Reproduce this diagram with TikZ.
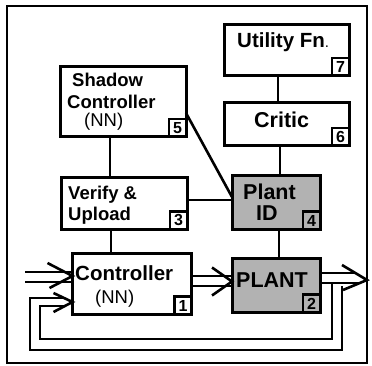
\documentclass[tikz,border=0pt]{standalone}
\usepackage{fontspec}
\setmainfont{Liberation Sans}
\usetikzlibrary{calc}
\begin{document}
\begin{tikzpicture}[x=1pt,y=-1pt,
  box/.style={draw,line width=3pt,inner sep=0pt,outer sep=0pt},
  gbox/.style={box,fill=black!30},
  num/.style={draw,line width=2.4pt,inner sep=0pt,outer sep=0pt,minimum width=17pt,minimum height=18pt,anchor=south east,font=\bfseries\fontsize{16}{16}\selectfont},
  lbl/.style={anchor=base west,inner sep=0pt,font=\bfseries\fontsize{#1}{#1}\selectfont},
  reg/.style={anchor=base west,inner sep=0pt,font=\fontsize{#1}{#1}\selectfont},
  wire/.style={line width=2.6pt},
  frame/.style={line width=2.8pt}
]
\useasboundingbox (0,0) rectangle (372,366);
\draw[frame] (7,6) rectangle (367,363);

% boxes
\node[box,minimum width=125pt,minimum height=51pt] (util) at (286.5,50.5) {};
\node[box,minimum width=125pt,minimum height=43pt] (critic) at (286.5,124.5) {};
\node[box,minimum width=126pt,minimum height=70pt] (shadow) at (123,102) {};
\node[box,minimum width=126pt,minimum height=52pt] (verify) at (124,203.5) {};
\node[gbox,minimum width=88pt,minimum height=54pt] (plantid) at (276,202.5) {};
\node[box,minimum width=119pt,minimum height=61pt] (ctrl) at (132,284) {};
\node[gbox,minimum width=88pt,minimum height=54pt] (plant) at (276,285.5) {};

% number tags
\node[num] (n7) at (util.south east) {7};
\node[num] (n6) at (critic.south east) {6};
\node[num] (n5) at (shadow.south east) {5};
\node[num] (n3) at (verify.south east) {3};
\node[num] (n4) at (plantid.south east) {4};
\node[num] (n1) at (ctrl.south east) {1};
\node[num] (n2) at (plant.south east) {2};

% texts
\node[lbl=20.5] (tutil) at (237,48) {Utility Fn{\mdseries\fontsize{15}{15}\selectfont.}};
\node[lbl=21.5] (tcritic) at (254,128) {Critic};
\node[lbl=18.5] (tsh1) at (72,87) {Shadow};
\node[lbl=18.5] (tsh2) at (67,109) {Controller};
\node[reg=18.5] (tsh3) at (84,127) {(NN)};
\node[lbl=18.5] (tver1) at (68,200) {Verify \&};
\node[lbl=18.5] (tver2) at (68,221) {Upload};
\node[lbl=21.5] (tpid1) at (243,200) {Plant};
\node[lbl=21.5] (tpid2) at (256,220) {ID};
\node[lbl=20.5] (tctrl1) at (75,280) {Controller};
\node[reg=18.5] (tctrl2) at (95,303) {(NN)};
\node[lbl=21.5] (tplant) at (236,287) {PLANT};

% helper coordinates
\coordinate (xa) at (278,0);
\coordinate (xb) at (280,0);
\coordinate (xc) at (279,0);
\coordinate (xd) at (110,0);
\coordinate (xe) at (111,0);
\coordinate (ya) at (0,113);
\coordinate (yb) at (0,197);
\coordinate (yc) at (0,200);

% simple connectors
\draw[wire] (util.south -| xa) -- (critic.north -| xa);
\draw[wire] (critic.south -| xb) -- (plantid.north -| xb);
\draw[wire] (plantid.south -| xc) -- (plant.north -| xc);
\draw[wire] (shadow.south -| xd) -- (verify.north -| xd);
\draw[wire] (verify.south -| xe) -- (ctrl.north -| xe);
\draw[wire] (verify.east |- yc) -- (plantid.west |- yc);
\draw[wire] (shadow.east |- ya) -- (plantid.west |- yb);

% controller -> plant double arrow
\coordinate (cp1) at (0,276);
\coordinate (cp2) at (0,286);
\coordinate (cpt) at (0,281.5);
\draw[wire] (ctrl.east |- cp1) -- (plant.west |- cp1);
\draw[wire] (ctrl.east |- cp2) -- (plant.west |- cp2);
\draw[wire,line join=miter] ($(plant.west |- cpt)+(-20,-14)$) -- (plant.west |- cpt) -- ++(-20,14);

% inputs to controller
\coordinate (in1) at (25,272);
\coordinate (in2) at (25,282);
\coordinate (intip) at ($(ctrl.west)+(0,-8)$);
\draw[wire] (in1) -- (ctrl.west |- in1);
\draw[wire] (in2) -- (ctrl.west |- in2);
\draw[wire,line join=miter] ($(intip)+(-25,-13)$) -- (intip) -- ++(-23,12);

% plant output
\coordinate (out) at (367,280);
\coordinate (po1) at (0,273);
\coordinate (po2) at (0,283);
\draw[wire] (plant.east |- po1) -- (356,273);
\draw[wire] (plant.east |- po2) -- (359,283);
\draw[wire,line join=miter] (342,265) -- (out) -- (343,290);

% feedback loops
\coordinate (fbi) at (332,283);
\coordinate (fbo) at (342,286);
\coordinate (fbtip) at ($(ctrl.west)+(0,18)$);
\draw[wire] (fbi) -- (332,339) -- (40,339) -- (40,306) -- (64,306);
\draw[wire] (fbo) -- (342,350) -- (30,350) -- (30,298) -- (64,298);
\draw[wire,line join=miter] ($(fbtip)+(-19,-9)$) -- (fbtip) -- ++(-19,10);
\end{tikzpicture}
\end{document}
